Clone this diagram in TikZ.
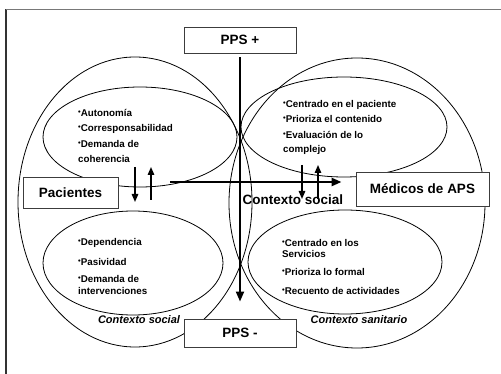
\documentclass[tikz,border=0pt]{standalone}
\usepackage{fontspec}
\setmainfont{Liberation Sans}
\usepackage{xcolor}
\definecolor{framegray}{RGB}{120,120,120}
\definecolor{framedark}{RGB}{50,50,50}
\definecolor{boxline}{RGB}{60,60,60}
\usepackage{tikz}
\usetikzlibrary{calc,arrows.meta}
\newcommand{\bul}{\raisebox{2.4pt}{\fontsize{7.5}{7.5}\selectfont\textbullet}}

\begin{document}
\begin{tikzpicture}[x=1pt,y=-1pt,
  labelbox/.style={draw=boxline,line width=0.9pt,fill=white,
    font=\fontsize{13.5}{15}\selectfont\bfseries},
  items/.style={align=left,anchor=base west,inner sep=0pt,
    font=\fontsize{9.8}{12}\selectfont\bfseries},
  ctxlabel/.style={font=\fontsize{11}{13}\selectfont\bfseries\itshape},
  oval/.style={line width=0.8pt},
  bigarrow/.style={line width=2pt,-{Triangle[length=10pt,width=8pt]}},
  smallarrow/.style={line width=1.4pt,-{Triangle[length=8pt,width=6.5pt]}}]
\useasboundingbox
  (0,0) rectangle (501,374);
\draw [framedark,line width=1.3pt] (6,374) -- (6,9.5);
\draw [framegray,line width=1.3pt] (6,9.5) -- (501,9.5);

% the two contexts
\draw [oval] (135,202) ellipse [x radius=117,y radius=145];
\draw [oval] (357,203) ellipse [x radius=128,y radius=145];
% the four quadrants
\draw [oval] (140,137) ellipse [x radius=97,y radius=50];
\draw [oval] (133,263) ellipse [x radius=90,y radius=52];
\draw [oval] (344,127) ellipse [x radius=103,y radius=50];
\draw [oval] (345,262) ellipse [x radius=97,y radius=52];

\node [labelbox,minimum width=112pt,minimum height=26pt]
  (ppsplus) at (240,40) {PPS +};
\node [labelbox,minimum width=112pt,minimum height=28pt]
  (ppsminus) at (240,333) {PPS -};
\node [labelbox,minimum width=95pt,minimum height=31pt]
  (pacientes) at (70.5,192.5) {Pacientes};
\node [labelbox,minimum width=133pt,minimum height=34pt]
  (medicos) at (422.5,189) {Médicos de APS};

\node [font=\fontsize{13.5}{15}\selectfont\bfseries]
  (ctxcentre) at (293,200) {Contexto social};
\node [ctxlabel] (ctxsocial) at (139,320) {Contexto social};
\node [ctxlabel] (ctxsanitario) at (359,320) {Contexto sanitario};

% lists, placed by the baseline of their last line
\node [items] (itemsTL) at (78,162.5)
  {\bul Autonomía\\[3pt]\bul Corresponsabilidad\\[4pt]
   \bul Demanda de\\[3pt]coherencia};
\node [items] (itemsBL) at (78,294.5)
  {\bul Dependencia\\[8pt]\bul Pasividad\\[5pt]
   \bul Demanda de\\intervenciones};
\node [items] (itemsTR) at (283,152.5)
  {\bul Centrado en el paciente\\[3pt]\bul Prioriza el contenido\\[4pt]
   \bul Evaluación de lo\\[2pt]complejo};
\node [items] (itemsBR) at (282,294.5)
  {\bul Centrado en los\\[-1pt]Servicios\\[6pt]
   \bul Prioriza lo formal\\[7pt]\bul Recuento de actividades};

% axes
\draw [bigarrow,{Triangle[length=10pt,width=8pt]}-]
  (ppsminus.north) -- (ppsplus.south)
  [shorten <=17pt,shorten >=4pt];
\coordinate (hstart) at (170,182);
\draw [bigarrow,line width=2.4pt,shorten >=14pt]
  (hstart) -- (hstart -| medicos.west);

% exchanges
\coordinate (pdown) at (135,167);
\coordinate (pup) at (151,200);
\coordinate (mdown) at (302,165);
\coordinate (mup) at (318,199);
\draw [smallarrow] (pdown) -- ++(0,35);
\draw [smallarrow] (pup) -- ++(0,-33);
\draw [smallarrow] (mdown) -- ++(0,34);
\draw [smallarrow] (mup) -- ++(0,-34);
\end{tikzpicture}
\end{document}
